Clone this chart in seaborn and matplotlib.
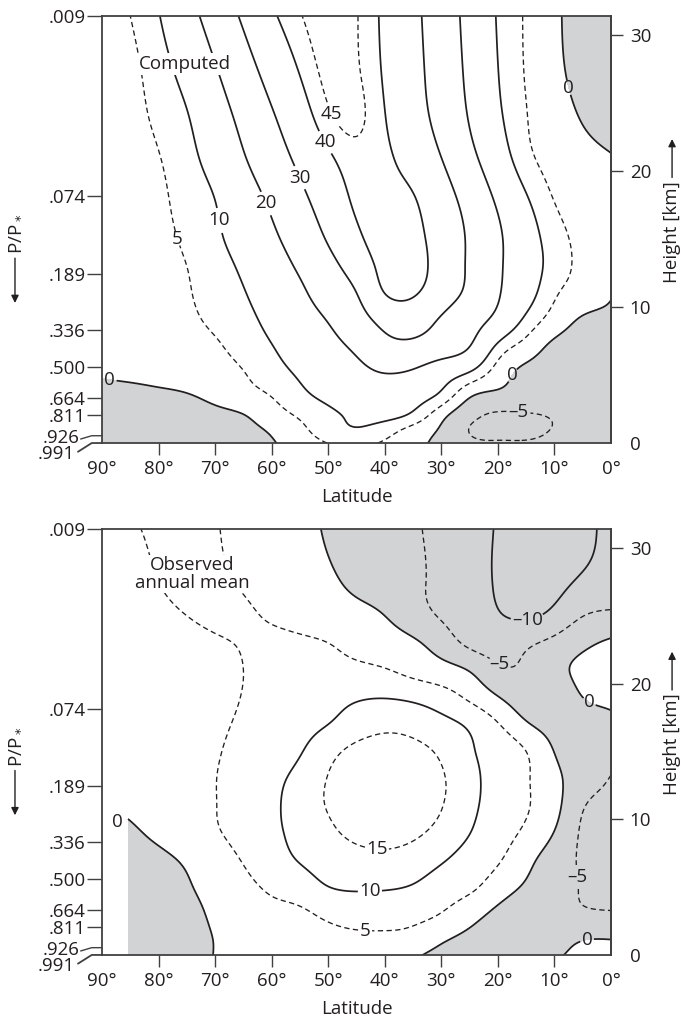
import numpy as np
import matplotlib
matplotlib.use("Agg")
import matplotlib.pyplot as plt
import seaborn as sns

# zonal wind sections: columns are latitudes, rows are heights (km)
LATS_COMPUTED = [0, 5, 10, 15, 20, 25, 30, 35, 40, 45, 50, 55, 60, 65, 70, 75, 80, 85, 90]
Z_COMPUTED = [0, 1, 2, 3.5, 5, 7, 9, 11, 13, 15, 18, 21, 24, 27, 31.4]
U_COMPUTED = [
    [-4.0, -4.2, -4.5, -4.8, -4.8, -4.2, -1.5, 1.6, 4.3, 6.5, 5.1, 2.2, -0.3, -1.0, -1.5, -1.8, -2.0, -2.1, -2.2],
    [-4.2, -4.6, -4.9, -5.6, -5.7, -5.1, -0.6, 3.4, 7.5, 9.7, 7.8, 3.8, 0.6, -0.9, -1.1, -1.5, -1.8, -1.9, -2.0],
    [-4.0, -4.4, -4.8, -5.4, -5.6, -3.8, 1.5, 8.6, 11.5, 11.0, 8.7, 5.6, 2.6, -0.2, -0.9, -1.3, -1.5, -1.6, -1.6],
    [-4.0, -4.0, -3.3, -2.2, -1.2, 0.7, 8.7, 12.8, 14.7, 14.2, 11.5, 8.7, 5.2, 3.2, 1.1, -0.2, -0.6, -0.9, -1.0],
    [-3.5, -3.0, -2.2, -1.3, 2.3, 8.6, 13.5, 18.0, 19.5, 17.0, 13.5, 10.6, 7.6, 4.7, 2.8, 1.6, 0.9, 0.5, 0.2],
    [-2.5, -2.0, -1.2, 2.7, 8.3, 19.7, 24.5, 27.5, 27.0, 21.5, 17.1, 13.3, 9.7, 6.8, 4.3, 3.0, 1.9, 1.3, 0.9],
    [-1.0, -0.6, 2.8, 8.5, 17.3, 23.7, 29.0, 34.0, 32.5, 26.0, 20.3, 16.0, 11.8, 8.2, 5.9, 4.0, 2.6, 1.7, 1.2],
    [0.3, 2.8, 5.7, 13.1, 20.7, 27.9, 34.7, 40.8, 40.0, 29.9, 24.0, 18.5, 14.0, 9.6, 6.9, 4.6, 3.0, 2.0, 1.5],
    [1.5, 3.8, 7.6, 14.1, 21.3, 28.8, 36.4, 43.0, 42.4, 34.4, 27.2, 21.2, 16.1, 11.2, 7.6, 5.0, 3.3, 2.3, 1.7],
    [2.3, 3.9, 7.0, 13.8, 21.3, 28.8, 36.3, 42.2, 43.3, 38.3, 30.8, 24.0, 18.4, 13.2, 8.8, 5.8, 3.7, 2.8, 2.0],
    [2.0, 3.4, 4.8, 10.6, 18.6, 26.5, 34.1, 40.4, 42.0, 41.2, 34.8, 28.0, 21.6, 15.8, 10.1, 7.0, 4.0, 2.8, 2.0],
    [0.3, 1.7, 3.3, 6.4, 14.1, 22.3, 30.0, 36.8, 41.2, 43.2, 38.8, 32.1, 25.7, 19.4, 12.9, 8.2, 4.8, 3.0, 2.0],
    [-2.5, -0.4, 2.4, 5.2, 11.3, 19.4, 27.0, 33.8, 40.2, 46.3, 44.0, 36.1, 29.1, 22.4, 15.8, 9.6, 6.0, 3.5, 2.3],
    [-3.3, -1.8, 1.4, 4.7, 10.2, 18.2, 25.8, 32.8, 39.2, 45.8, 46.5, 40.0, 32.9, 25.8, 18.9, 12.2, 7.3, 3.8, 2.5],
    [-3.5, -2.2, 0.9, 4.5, 9.5, 17.3, 24.9, 32.1, 38.5, 45.3, 48.0, 44.6, 38.7, 31.3, 24.0, 16.7, 9.7, 5.0, 3.0],
]

LATS_OBSERVED = [0, 5, 10, 15, 20, 25, 30, 35, 40, 45, 50, 55, 60, 65, 70, 75, 80, 85.4]
Z_OBSERVED = [0, 1, 2, 3.5, 5, 7, 9, 11, 13, 15, 17, 19, 21, 23, 25, 27.5, 31.4]
U_OBSERVED = [
    [1.4, 1.0, -0.6, -2.0, -2.3, -2.0, -1.5, 1.0, 3.4, 3.3, 3.0, 2.5, 1.8, 1.0, 0.1, -1.6, -3.0, -3.5],
    [0.3, 0.1, -1.8, -2.6, -2.5, -1.5, 0.4, 3.2, 4.0, 3.9, 3.5, 3.0, 2.2, 1.3, 0.1, -1.5, -2.9, -3.5],
    [-2.4, -2.6, -3.3, -3.0, -2.0, 0.0, 2.8, 4.8, 5.3, 5.2, 4.6, 3.9, 2.9, 1.8, 0.3, -1.3, -2.8, -3.5],
    [-5.3, -4.9, -3.8, -2.3, -0.3, 2.8, 5.6, 7.0, 7.5, 7.3, 6.3, 4.9, 4.2, 2.6, 0.8, -1.0, -2.5, -3.5],
    [-6.5, -5.3, -3.0, -0.6, 2.4, 6.0, 7.6, 9.6, 10.5, 10.7, 9.9, 7.2, 5.7, 3.7, 1.5, -0.4, -2.0, -3.0],
    [-7.0, -5.6, -2.4, 1.4, 5.5, 8.1, 10.5, 13.0, 14.0, 13.5, 12.2, 10.3, 7.9, 5.3, 2.6, 0.6, -1.0, -2.0],
    [-7.0, -5.6, -0.2, 4.1, 7.1, 10.1, 13.5, 15.7, 16.3, 16.0, 14.0, 11.4, 9.0, 6.7, 4.5, 2.7, 0.9, -0.8],
    [-6.5, -4.6, 1.5, 5.4, 8.0, 11.2, 15.2, 17.2, 18.0, 17.3, 15.3, 12.3, 9.0, 6.7, 4.9, 3.3, 1.8, 0.6],
    [-5.2, -2.5, 1.2, 5.5, 8.1, 11.5, 15.5, 17.5, 18.0, 17.5, 15.2, 11.4, 8.8, 6.8, 4.9, 3.3, 2.0, 0.8],
    [-3.5, -2.5, -0.1, 5.0, 8.1, 10.6, 14.2, 16.3, 17.0, 16.3, 13.3, 9.7, 8.0, 6.5, 4.6, 3.5, 2.2, 1.0],
    [-1.2, -2.5, -2.0, 0.6, 5.3, 9.2, 11.5, 13.3, 13.8, 12.3, 10.0, 8.5, 7.0, 5.6, 4.3, 3.4, 2.4, 1.2],
    [0.8, 0.0, -3.5, -3.0, 0.2, 4.1, 7.2, 9.0, 9.8, 9.5, 8.5, 7.3, 6.2, 5.1, 4.3, 3.5, 2.5, 1.4],
    [1.2, 1.0, -1.6, -4.3, -4.2, -0.3, 1.9, 3.5, 5.3, 6.0, 6.2, 6.0, 5.6, 5.0, 4.2, 3.3, 2.5, 1.6],
    [0.6, -1.0, -3.7, -5.8, -7.0, -6.0, -2.3, 0.7, 2.2, 3.6, 5.0, 5.5, 5.6, 5.2, 4.6, 3.7, 2.8, 2.0],
    [-4.0, -5.1, -8.6, -10.6, -9.6, -7.5, -5.4, -2.8, 0.0, 1.3, 2.4, 3.6, 4.6, 5.5, 5.7, 5.0, 4.0, 3.0],
    [-7.8, -9.3, -11.3, -11.8, -10.4, -8.2, -6.0, -4.2, -2.4, -0.8, 0.6, 1.8, 3.2, 4.6, 5.6, 5.8, 5.0, 3.5],
    [-9.0, -10.8, -11.5, -11.6, -10.3, -8.2, -6.2, -4.5, -3.2, -1.8, -0.4, 1.2, 2.7, 4.0, 5.2, 6.0, 5.6, 4.5],
]

LEVELS_COMPUTED = [-5, 0, 5, 10, 20, 30, 40, 45]
LEVELS_OBSERVED = [-10, -5, 0, 5, 10, 15]
DASHED = [-5, 5, 15, 45]

LAT_TICKS = [90, 80, 70, 60, 50, 40, 30, 20, 10, 0]
HEIGHT_TICKS = [0, 10, 20, 30]
P_LABELS = [".009", ".074", ".189", ".336", ".500", ".664", ".811"]
P_HEIGHTS = [31.4, 18.16, 12.43, 8.31, 5.59, 3.31, 2.06]

# where the contour labels sit (lat, km)
LABELS_COMPUTED = [(48.8, 24.3), (50.6, 22.1), (54.6, 19.6), (60.5, 17.7), (68.8, 16.4),
                   (76.2, 15.1), (7.8, 26.1), (88.8, 4.4), (17.5, 5.0), (16.4, 2.1)]
LABELS_OBSERVED = [(41.4, 7.8), (42.6, 4.3), (43.5, 1.7), (14.9, 25.0), (19.6, 21.5),
                   (4.1, 18.4), (6.9, 5.7), (4.2, 1.0)]

GRAY = "#d1d3d4"
INK = "#231f20"
FRAME = "#404040"
FS = 13.5

sns.set_style("ticks")
plt.rcParams["font.family"] = ["Open Sans", "DejaVu Sans"]
plt.rcParams["lines.dashed_pattern"] = [4.0, 2.6]


def spline_weights(knots, xs):
    # natural cubic spline, written as a matrix acting on the knot values
    x = np.asarray(knots, dtype=float)
    n = len(x)
    h = np.diff(x)
    A = np.zeros((n, n))
    A[0, 0] = A[-1, -1] = 1.0
    R = np.zeros((n, n))
    for i in range(1, n - 1):
        A[i, i - 1], A[i, i], A[i, i + 1] = h[i - 1], 2 * (h[i - 1] + h[i]), h[i]
        R[i, i + 1] += 6 / h[i]
        R[i, i] -= 6 / h[i] + 6 / h[i - 1]
        R[i, i - 1] += 6 / h[i - 1]
    M = np.linalg.solve(A, R)
    idx = np.clip(np.searchsorted(x, xs, side="right") - 1, 0, n - 2)
    hh = h[idx]
    a = (x[idx + 1] - xs) / hh
    b = (xs - x[idx]) / hh
    W = np.zeros((len(xs), n))
    rows = np.arange(len(xs))
    W[rows, idx] += a
    W[rows, idx + 1] += b
    W += ((a ** 3 - a)[:, None] * M[idx] + (b ** 3 - b)[:, None] * M[idx + 1]) * (hh ** 2 / 6)[:, None]
    return W


def fmt_level(v):
    return ("\u2013" if v < 0 else "") + f"{abs(v):g}"


def draw_panel(ax, lats, heights, values, levels, label_pos):
    lat_f = np.linspace(min(lats), max(lats), 400)
    z_f = np.linspace(min(heights), max(heights), 320)
    u_f = spline_weights(heights, z_f) @ np.asarray(values) @ spline_weights(lats, lat_f).T
    ax.contourf(lat_f, z_f, u_f, levels=[-100, 0], colors=[GRAY], zorder=1)
    styles = ["dashed" if lv in DASHED else "solid" for lv in levels]
    widths = [0.95 if lv in DASHED else 1.25 for lv in levels]
    cs = ax.contour(lat_f, z_f, u_f, levels=levels, colors=INK, linewidths=widths,
                    linestyles=styles, zorder=2)
    labels = ax.clabel(cs, manual=label_pos, inline=True, inline_spacing=2, fmt=fmt_level,
                       fontsize=FS, colors=INK)
    for t in labels:
        t.set_rotation(0)

    ax.set_xlim(90, 0)
    ax.set_ylim(0, 31.4)
    ax.set_xticks(LAT_TICKS)
    ax.set_xticklabels([f"{v}°" for v in LAT_TICKS])
    ax.set_yticks(P_HEIGHTS)
    ax.set_yticklabels(P_LABELS)
    ax.tick_params(axis="y", length=10.5, width=1.0, pad=1.5, color=FRAME,
                   labelsize=FS, labelcolor=INK)
    ax.tick_params(axis="x", length=8.5, width=1.0, pad=3.5, color=FRAME,
                   labelsize=FS, labelcolor=INK)
    xt = ax.xaxis.get_major_ticks()
    xt[0].tick1line.set_visible(False)
    xt[-1].tick1line.set_visible(False)
    for s in ax.spines.values():
        s.set_color(FRAME)
        s.set_linewidth(1.3)

    ax2 = ax.twinx()
    ax2.set_ylim(0, 31.4)
    ax2.set_yticks(HEIGHT_TICKS)
    ax2.tick_params(axis="y", length=8.5, width=1.0, pad=5, color=FRAME,
                    labelsize=FS, labelcolor=INK)
    ax2.yaxis.get_major_ticks()[0].tick2line.set_visible(False)
    for name, s in ax2.spines.items():
        s.set_visible(name == "right")
        s.set_color(FRAME)
        s.set_linewidth(1.3)

    # broken axis marks at the bottom of the pressure scale
    tr = ax.transAxes
    ax.plot([-0.0419, -0.0202, 0.0], [0.0094, 0.0171, 0.0171], transform=tr, color=FRAME,
            lw=1.0, clip_on=False)
    ax.plot([-0.0472, -0.0202, 0.0], [-0.0204, 0.0, 0.0], color=FRAME, lw=1.3,
            transform=tr, clip_on=False)
    ax.text(-0.045, 0.0117, ".926", transform=tr, ha="right", va="center",
            fontsize=FS, color=INK)
    ax.text(-0.053, -0.0263, ".991", transform=tr, ha="right", va="center",
            fontsize=FS, color=INK)

    ax.text(0.5, -0.126, "Latitude", transform=tr, ha="center", va="center",
            fontsize=FS, color=INK)
    ax.text(-0.171, 0.489, "P/P$_*$", transform=tr, ha="center", va="center",
            rotation=90, fontsize=FS, color=INK)
    ax.annotate("", xy=(-0.171, 0.328), xytext=(-0.171, 0.433), xycoords=tr,
                arrowprops=dict(arrowstyle="-|>", lw=1.0, color=INK, mutation_scale=11,
                                shrinkA=0, shrinkB=0), annotation_clip=False)
    ax.text(1.12, 0.494, "Height [km]", transform=tr, ha="center", va="center",
            rotation=90, fontsize=FS, color=INK)
    ax.annotate("", xy=(1.12, 0.712), xytext=(1.12, 0.622), xycoords=tr,
                arrowprops=dict(arrowstyle="-|>", lw=1.0, color=INK, mutation_scale=11,
                                shrinkA=0, shrinkB=0), annotation_clip=False)
    return ax


fig = plt.figure(figsize=(6.81, 10.22), dpi=100)
ax_top = fig.add_axes([0.1498, 0.5665, 0.7474, 0.4178])
ax_bot = fig.add_axes([0.1498, 0.0656, 0.7474, 0.4168])

draw_panel(ax_top, LATS_COMPUTED, Z_COMPUTED, U_COMPUTED, LEVELS_COMPUTED, LABELS_COMPUTED)
draw_panel(ax_bot, LATS_OBSERVED, Z_OBSERVED, U_OBSERVED, LEVELS_OBSERVED, LABELS_OBSERVED)

ax_top.text(75.3, 27.9, "Computed", ha="center", va="center", fontsize=FS, color=INK,
            zorder=5, bbox=dict(facecolor="white", edgecolor="none", pad=1.5))
ax_bot.text(74.1, 28.1, "Observed\nannual mean", ha="center", va="center", fontsize=FS,
            color=INK, linespacing=1.0, zorder=5,
            bbox=dict(facecolor="white", edgecolor="none", pad=0.5))
ax_bot.text(87.3, 9.8, "0", ha="center", va="center", fontsize=FS, color=INK)

fig.savefig("out.png", dpi=100)
